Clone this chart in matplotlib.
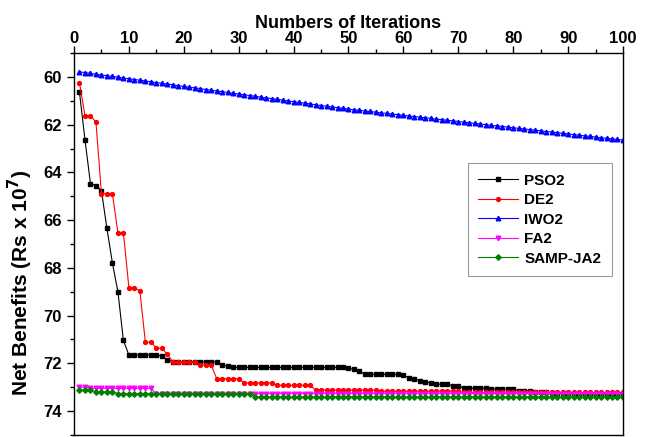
import matplotlib
matplotlib.use("Agg")
import matplotlib.pyplot as plt
from matplotlib.ticker import MultipleLocator

plt.rcParams['font.family'] = ['Liberation Sans', 'DejaVu Sans']
plt.rcParams['font.weight'] = 'bold'
plt.rcParams['mathtext.default'] = 'bf'

# iterations 1..100
iters = list(range(1, 101))

pso2 = ([60.65, 62.64, 64.47, 64.55, 64.77, 66.35, 67.80, 69.00, 71.04]
        + [71.65] * 6 + [71.70, 71.85]
        + [71.94] * 9 + [72.08, 72.10]
        + [72.17] * 21 + [72.20, 72.25, 72.32]
        + [72.46] * 7 + [72.50, 72.60, 72.64, 72.72, 72.78, 72.82]
        + [72.87] * 3 + [72.94] * 2
        + [73.04] * 5 + [73.08] * 5
        + [73.15] * 3 + [73.20] * 3 + [73.24] * 4
        + [73.28] * 10)

de2 = ([60.26, 61.62, 61.62, 61.90, 64.89, 64.90, 64.90, 66.53, 66.53,
        68.83, 68.83, 68.97, 71.11, 71.11, 71.36, 71.37, 71.62]
       + [71.94] * 5 + [72.08] * 3 + [72.64] * 5
       + [72.82] * 6 + [72.92] * 7 + [73.12] * 12
       + [73.17] * 15 + [73.22] * 30)

iwo2 = [59.79, 59.82, 59.85, 59.89, 59.92, 59.95, 59.98, 60.01, 60.05, 60.08,
        60.11, 60.14, 60.17, 60.21, 60.24, 60.27, 60.30, 60.33, 60.37, 60.40,
        60.43, 60.46, 60.49, 60.53, 60.56, 60.59, 60.62, 60.65, 60.69, 60.72,
        60.75, 60.78, 60.81, 60.85, 60.88, 60.91, 60.94, 60.97, 61.01, 61.04,
        61.07, 61.10, 61.13, 61.17, 61.20, 61.23, 61.26, 61.29, 61.32, 61.35,
        61.38, 61.40, 61.43, 61.45, 61.48, 61.51, 61.53, 61.56, 61.58, 61.61,
        61.64, 61.66, 61.69, 61.71, 61.74, 61.77, 61.79, 61.82, 61.84, 61.87,
        61.90, 61.92, 61.95, 61.97, 62.00, 62.03, 62.05, 62.08, 62.10, 62.13,
        62.16, 62.18, 62.21, 62.23, 62.26, 62.29, 62.31, 62.34, 62.36, 62.39,
        62.42, 62.44, 62.47, 62.49, 62.52, 62.55, 62.57, 62.60, 62.62, 62.65]

fa2 = [73.00] * 2 + [73.05] * 12 + [73.27] * 86

samp_ja2 = [73.12] * 3 + [73.19] * 4 + [73.27] * 25 + [73.41] * 68

fig = plt.figure(figsize=(6.48, 4.37), dpi=100)
ax = fig.add_axes([0.1142, 0.0046, 0.8472, 0.8741])

ax.plot(iters, pso2, color='black', marker='s', ms=2.8, lw=0.8, label='PSO2')
ax.plot(iters, de2, color='red', marker='o', ms=2.8, lw=0.8, label='DE2')
ax.plot(iters, iwo2, color='blue', marker='^', ms=3.3, lw=0.8, label='IWO2')
ax.plot(iters, fa2, color='magenta', marker='v', ms=3.3, lw=0.8, label='FA2')
ax.plot(iters, samp_ja2, color='green', marker='D', ms=2.8, lw=0.8, label='SAMP-JA2')

ax.set_xlim(0, 100)
ax.set_ylim(75, 59)

ax.xaxis.tick_top()
ax.xaxis.set_label_position('top')
ax.xaxis.set_major_locator(MultipleLocator(10))
ax.xaxis.set_minor_locator(MultipleLocator(5))
ax.yaxis.set_major_locator(MultipleLocator(2))
ax.yaxis.set_minor_locator(MultipleLocator(1))
ax.tick_params(which='both', direction='out', width=1, labelsize=12)
ax.tick_params(which='major', length=5)
ax.tick_params(which='minor', length=3)
ax.tick_params(axis='x', pad=0)
ax.tick_params(axis='y', pad=4)

ax.set_xlabel('Numbers of Iterations', fontsize=13, fontweight='bold', labelpad=2)
ax.set_ylabel(r'Net Benefits (Rs x 10$^{7}$)', fontsize=15, fontweight='bold')
ax.yaxis.set_label_coords(-0.071, 0.40)

for s in ax.spines.values():
    s.set_linewidth(1)

leg = ax.legend(loc='upper right', bbox_to_anchor=(0.98, 0.712), numpoints=1,
                handlelength=2.6, handletextpad=0.4, fontsize=11, fancybox=False,
                edgecolor='gray', borderpad=0.7, labelspacing=0.36,
                borderaxespad=0)
leg.get_frame().set_linewidth(0.8)

fig.savefig('out.png', dpi=100)
